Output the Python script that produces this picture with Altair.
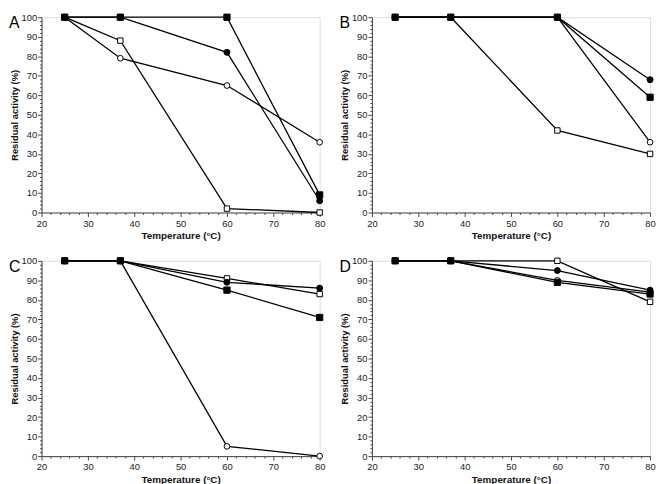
import altair as alt
import pandas as pd

temps = [25, 37, 60, 80]
series = ["filled square", "filled circle", "open circle", "open square"]
draw_order = ["open square", "open circle", "filled circle", "filled square"]
panels = ["A", "B", "C", "D"]

values = {
    "A": {
        "filled circle": [100, 100, 82, 6],
        "filled square": [100, 100, 100, 9],
        "open circle": [100, 79, 65, 36],
        "open square": [100, 88, 2, 0],
    },
    "B": {
        "filled circle": [100, 100, 100, 68],
        "filled square": [100, 100, 100, 59],
        "open circle": [100, 100, 100, 36],
        "open square": [100, 100, 42, 30],
    },
    "C": {
        "filled circle": [100, 100, 89, 86],
        "filled square": [100, 100, 85, 71],
        "open circle": [100, 100, 5, 0],
        "open square": [100, 100, 91, 83],
    },
    "D": {
        "filled circle": [100, 100, 95, 85],
        "filled square": [100, 100, 89, 83],
        "open circle": [100, 100, 90, 84],
        "open square": [100, 100, 100, 79],
    },
}

x_ticks = list(range(20, 81, 2))
y_ticks = list(range(0, 101, 2))

shape_range = ["square", "circle", "circle", "square"]
fill_range = ["black", "black", "white", "white"]
size_range = [40, 30, 30, 40]

W, H = 282, 198
FONT = "Liberation Sans"

def major_minor(step):
    return {"condition": {"test": f"datum.value % {step} === 0", "value": 4}, "value": 2}

def panel(letter):
    rows = []
    for s in draw_order:
        for t, v in zip(temps, values[letter][s]):
            rows.append({"series": s, "temp": t, "activity": v})
    df = pd.DataFrame(rows)

    x = alt.X("temp:Q", scale=alt.Scale(domain=[20, 80], nice=False, zero=False),
              axis=alt.Axis(values=x_ticks, labelExpr="datum.value % 10 === 0 ? datum.label : ''",
                            tickSize=major_minor(10), labelOverlap=False, labelFlush=False,
                            title="Temperature (°C)", grid=False, labelFontSize=9.5,
                            titleFontSize=10, titleFontWeight="bold", labelPadding=2,
                            titlePadding=3, domainColor="#444", tickColor="#444",
                            labelColor="#222", titleColor="#111"))
    y = alt.Y("activity:Q", scale=alt.Scale(domain=[0, 100], nice=False),
              axis=alt.Axis(values=y_ticks, labelExpr="datum.value % 10 === 0 ? datum.label : ''",
                            tickSize=major_minor(10), labelOverlap=False, labelFlush=False,
                            title="Residual activity (%)", grid=False, labelFontSize=9.5,
                            titleFontSize=9.5, titleFontWeight="bold", labelPadding=1,
                            titlePadding=2, domainColor="#444", tickColor="#444",
                            labelColor="#222", titleColor="#111"))

    base = alt.Chart(df)
    lines = base.mark_line(color="black", strokeWidth=1.3).encode(
        x=x, y=y, detail="series:N", order="temp:Q")
    points = base.mark_point(filled=True, stroke="black", strokeWidth=1, opacity=1).encode(
        x=x, y=y,
        shape=alt.Shape("series:N", scale=alt.Scale(domain=series, range=shape_range), legend=None),
        fill=alt.Fill("series:N", scale=alt.Scale(domain=series, range=fill_range), legend=None),
        size=alt.Size("series:N", scale=alt.Scale(domain=series, range=size_range), legend=None),
    )
    label = alt.Chart(pd.DataFrame({"letter": [letter]})).mark_text(
        font=FONT, fontSize=16, align="left", baseline="top", color="black"
    ).encode(text="letter:N", x=alt.value(-33), y=alt.value(-2))
    return alt.layer(lines, points, label).properties(width=W, height=H)

top = alt.hconcat(panel("A"), panel("B"), spacing=13)
bottom = alt.hconcat(panel("C"), panel("D"), spacing=13)
chart = alt.vconcat(top, bottom, spacing=14).properties(padding=0).configure_view(
    stroke=None).configure(font=FONT).configure_axis(labelFont=FONT, titleFont=FONT)

chart.save("out.html", embed_options={"renderer": "svg", "actions": False})
